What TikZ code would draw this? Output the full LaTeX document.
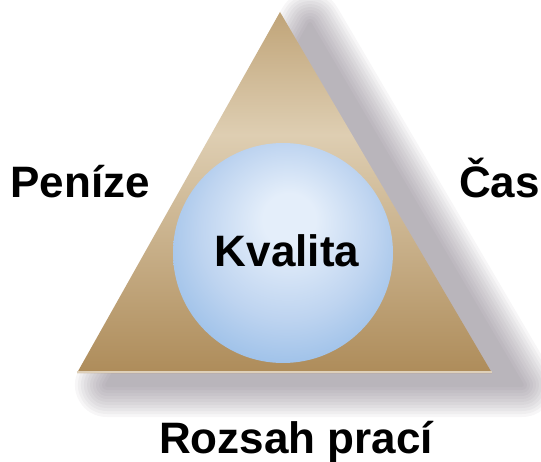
\documentclass[tikz,border=0pt]{standalone}
\usepackage{fontspec}
\setmainfont{Liberation Sans}
\definecolor{tritop}{RGB}{192,164,120}
\definecolor{trilight}{RGB}{222,206,178}
\definecolor{tribot}{RGB}{174,140,90}
\definecolor{sphhi}{RGB}{228,238,250}
\definecolor{sphmid}{RGB}{190,212,240}
\definecolor{sphedge}{RGB}{146,186,230}
\definecolor{shcol}{RGB}{112,102,116}
\definecolor{basehl}{RGB}{222,208,186}
\pgfdeclareverticalshading{trishade}{100bp}{color(0bp)=(tribot); color(25bp)=(tribot); color(58bp)=(trilight); color(75bp)=(tritop); color(100bp)=(tritop)}
\pgfdeclareradialshading{sphshade}{\pgfpoint{1.6bp}{8.6bp}}{color(0bp)=(sphhi); color(6bp)=(sphhi); color(20bp)=(sphmid); color(33bp)=(sphedge); color(50bp)=(sphedge)}
\tikzset{
  lbl/.style={inner sep=0pt, anchor=base, font=\fontsize{44pt}{50pt}\selectfont\bfseries, text=black},
}
\begin{document}
\begin{tikzpicture}[x=1pt,y=1pt]
\useasboundingbox (0,0) rectangle (541,461);
% blurred shadow
\begin{scope}[shift={(30,-12)}]
  \foreach \r in {2,5,...,32} {
    \begin{scope}[transparency group, opacity=0.06]
      \filldraw[shcol, line width=2*\r pt, line join=round] (280,449) -- (77,88) -- (492,88) -- cycle;
    \end{scope}
  }
\end{scope}
% triangle
\coordinate (apex) at (280,449);
\coordinate (bl) at (77,88);
\coordinate (br) at (492,88);
\shade[shading=trishade] (apex) -- (bl) -- (br) -- cycle;
\draw[basehl, line width=2pt] ([yshift=1pt]bl) -- ([yshift=1pt]br);
% sphere
\shade[shading=sphshade] (283,208) circle[radius=110];
\node[lbl] (kval) at (287,194) {Kvalita};
\node[lbl] (pen) at (80,263) {Peníze};
\node[lbl, anchor=base west] (cas) at (459,263) {Čas};
\node[lbl] (roz) at (296,8) {Rozsah prací};
\end{tikzpicture}
\end{document}
